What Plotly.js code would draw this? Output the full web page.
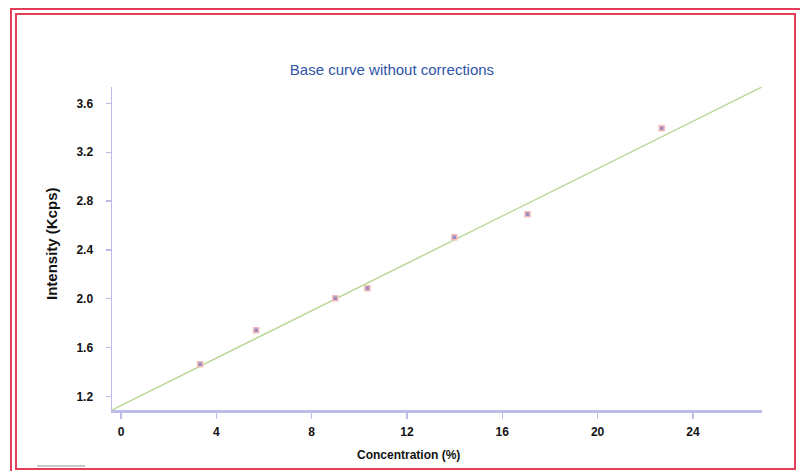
<!DOCTYPE html>
<html>
<head>
<meta charset="utf-8">
<script src="https://cdn.plot.ly/plotly-3.0.1.min.js"></script>
<style>
  html, body { margin: 0; padding: 0; background: #fff; }
  #wrap { position: relative; width: 800px; height: 471px; overflow: hidden; }
  #chart { position: absolute; left: 0; top: 0; width: 800px; height: 471px; }
  .frame-outer { position: absolute; left: 10px; top: 8px; width: 800px; height: 470px; border: 2.5px solid #e2405a; box-sizing: border-box; pointer-events: none; }
  .frame-inner { position: absolute; left: 15px; top: 13px; width: 781px; height: 457px; border: 2px solid #e2405a; box-sizing: border-box; pointer-events: none; }
  .grayline { position: absolute; left: 37px; top: 465px; width: 48px; height: 2px; background: #c8c8c8; pointer-events: none; }
</style>
</head>
<body>
<div id="wrap">
  <div id="chart"></div>
  <div class="frame-outer"></div>
  <div class="frame-inner"></div>
  <div class="grayline"></div>
</div>
<script>
// Measured standards: concentration (%) vs intensity (Kcps)
const concentration = [3.32, 5.67, 8.99, 10.34, 13.99, 17.06, 22.69];
const intensity = [1.462, 1.741, 2.003, 2.085, 2.503, 2.692, 3.397];

// Calibration (base) line end points
const fitX = [-0.38, 26.9];
const fitY = [1.088, 3.735];

const xTicks = [0, 4, 8, 12, 16, 20, 24];
const yTicks = [1.2, 1.6, 2.0, 2.4, 2.8, 3.2, 3.6];
const yTickText = ['1.2', '1.6', '2.0', '2.4', '2.8', '3.2', '3.6'];

const titleText = 'Base curve without corrections';
const xTitle = 'Concentration (%)';
const yTitle = 'Intensity (Kcps)';

const font = 'Liberation Sans, Arial, sans-serif';
const axisColor = '#bcbce6';

const traces = [
  {
    x: fitX, y: fitY, mode: 'lines', type: 'scatter',
    line: { color: '#bcd898', width: 1.5 },
    hoverinfo: 'skip', showlegend: false, cliponaxis: true
  },
  {
    x: concentration, y: intensity, mode: 'markers', type: 'scatter',
    marker: { symbol: 'square', size: 5, color: '#9c8cc4', line: { color: '#f2bcb8', width: 1.5 } },
    showlegend: false
  }
];

const layout = {
  width: 800, height: 471,
  margin: { l: 112, r: 38, t: 87, b: 61 },
  paper_bgcolor: '#ffffff', plot_bgcolor: '#ffffff',
  font: { family: font, color: '#111' },
  title: {
    text: titleText, x: 392 / 800, xref: 'container', xanchor: 'center',
    y: 1 - 70 / 471, yref: 'container', yanchor: 'middle',
    font: { family: font, size: 15, color: '#2f55a8' }
  },
  xaxis: {
    range: [-0.38, 26.9],
    tickmode: 'array', tickvals: xTicks, ticktext: xTicks.map(String),
    showgrid: false, zeroline: false,
    showline: true, linecolor: axisColor, linewidth: 2.5,
    ticks: 'outside', ticklen: 6, tickwidth: 1.5, tickcolor: axisColor,
    tickfont: { family: font, size: 12, color: '#111', weight: 'bold' },
    ticklabelstandoff: 3
  },
  yaxis: {
    range: [1.088, 3.735],
    tickmode: 'array', tickvals: yTicks, ticktext: yTickText,
    showgrid: false, zeroline: false,
    showline: true, linecolor: axisColor, linewidth: 1.5,
    ticks: 'outside', ticklen: 5, tickwidth: 1.5, tickcolor: axisColor,
    tickfont: { family: font, size: 12, color: '#111', weight: 'bold' },
    ticklabelstandoff: 10
  },
  annotations: [
    {
      text: xTitle, xref: 'paper', yref: 'paper',
      x: (408 - 112) / 650, y: -(455 - 410) / 323, xanchor: 'center', yanchor: 'middle',
      showarrow: false, font: { family: font, size: 12, color: '#111', weight: 'bold' }
    },
    {
      text: yTitle, xref: 'paper', yref: 'paper', textangle: -90,
      x: -(112 - 52) / 650, y: (410 - 244) / 323, xanchor: 'center', yanchor: 'middle',
      showarrow: false, font: { family: font, size: 15, color: '#111', weight: 'bold' }
    }
  ]
};

Plotly.newPlot('chart', traces, layout, { displayModeBar: false, staticPlot: true });
</script>
</body>
</html>
